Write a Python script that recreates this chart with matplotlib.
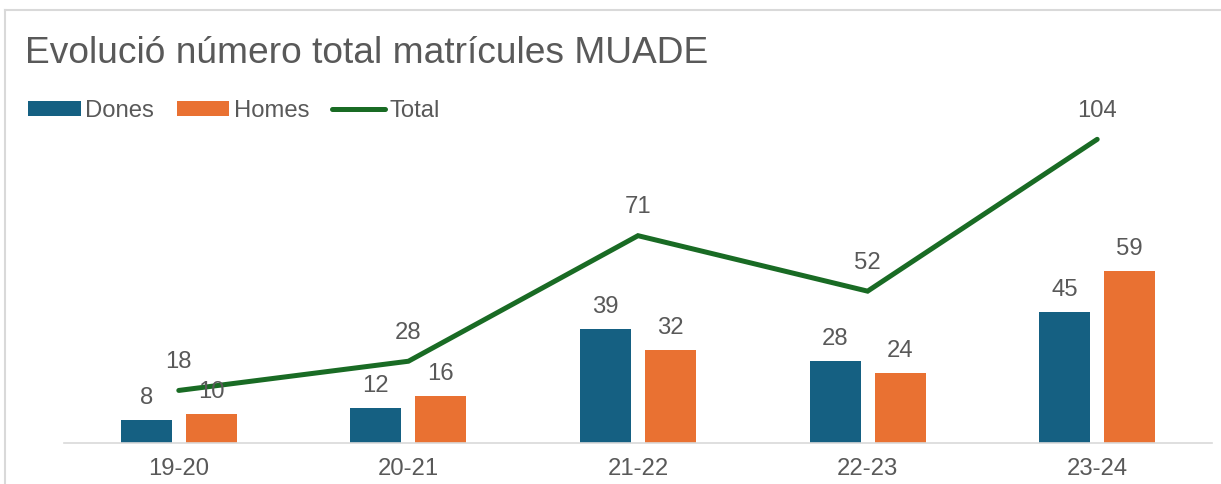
import matplotlib
matplotlib.use("Agg")
import numpy as np
import matplotlib.pyplot as plt
from matplotlib.lines import Line2D

plt.rcParams["font.family"] = ["Liberation Sans", "DejaVu Sans"]

# data
cursos = ["19-20", "20-21", "21-22", "22-23", "23-24"]
dones = [8, 12, 39, 28, 45]
homes = [10, 16, 32, 24, 59]
total = [18, 28, 71, 52, 104]

c_dones = "#156082"
c_homes = "#E97132"
c_total = "#196B24"
c_text = "#595959"
c_grid = "#D9D9D9"

W, H = 1221, 484
fig = plt.figure(figsize=(W / 100, H / 100), dpi=100)

# plot area in pixel coords
x0, x1 = 64, 1212
y_base, y_top = 443, 92.6
ax = fig.add_axes([x0 / W, (H - y_base) / H, (x1 - x0) / W, (y_base - y_top) / H])

x = np.arange(len(cursos))
bw = 0.222
off = 0.1415
b1 = ax.bar(x - off, dones, bw, color=c_dones, label="Dones", zorder=2)
b2 = ax.bar(x + off, homes, bw, color=c_homes, label="Homes", zorder=2)
ln, = ax.plot(x, total, color=c_total, lw=3.6, solid_capstyle="round",
              solid_joinstyle="miter", label="Total", zorder=3)

fs = 17.2
for bars, vals in ((b1, dones), (b2, homes)):
    for rect, v in zip(bars, vals):
        ax.annotate(str(v), (rect.get_x() + rect.get_width() / 2, v),
                    xytext=(0, 11.5), textcoords="offset points", zorder=4,
                    ha="center", va="baseline", fontsize=fs, color=c_text)
for xi, v in zip(x, total):
    ax.annotate(str(v), (xi, v), xytext=(0, 16), textcoords="offset points",
                ha="center", va="baseline", fontsize=fs, color=c_text, zorder=4)

ax.set_xlim(-0.5, len(cursos) - 0.5)
ax.set_ylim(0, 120)
ax.set_xticks(x)
ax.set_xticklabels(cursos, fontsize=fs, color=c_text)
ax.tick_params(axis="x", length=0, pad=11)
ax.set_yticks([])
for s in ("top", "right", "left"):
    ax.spines[s].set_visible(False)
ax.spines["bottom"].set_color(c_grid)
ax.spines["bottom"].set_linewidth(1.2)

fig.text(25 / W, (H - 63) / H, "Evolució número total matrícules MUADE",
         fontsize=26.7, color=c_text, va="baseline", ha="left")

fig.legend(handles=[b1, b2, ln], loc="center left",
           bbox_to_anchor=(28 / W, (H - 111) / H), ncol=3, frameon=False,
           fontsize=fs, labelcolor=c_text, borderpad=0, borderaxespad=0,
           handlelength=2.2, handleheight=0.55, handletextpad=0.2,
           columnspacing=0.95)

# chart border (cropped)
fig.add_artist(Line2D([4.5 / W, 4.5 / W], [0, (H - 10) / H], color=c_grid, lw=1.5))
fig.add_artist(Line2D([4.5 / W, 1], [(H - 10) / H, (H - 10) / H], color=c_grid, lw=1.5))

fig.savefig("out.png", dpi=100, facecolor="white")
